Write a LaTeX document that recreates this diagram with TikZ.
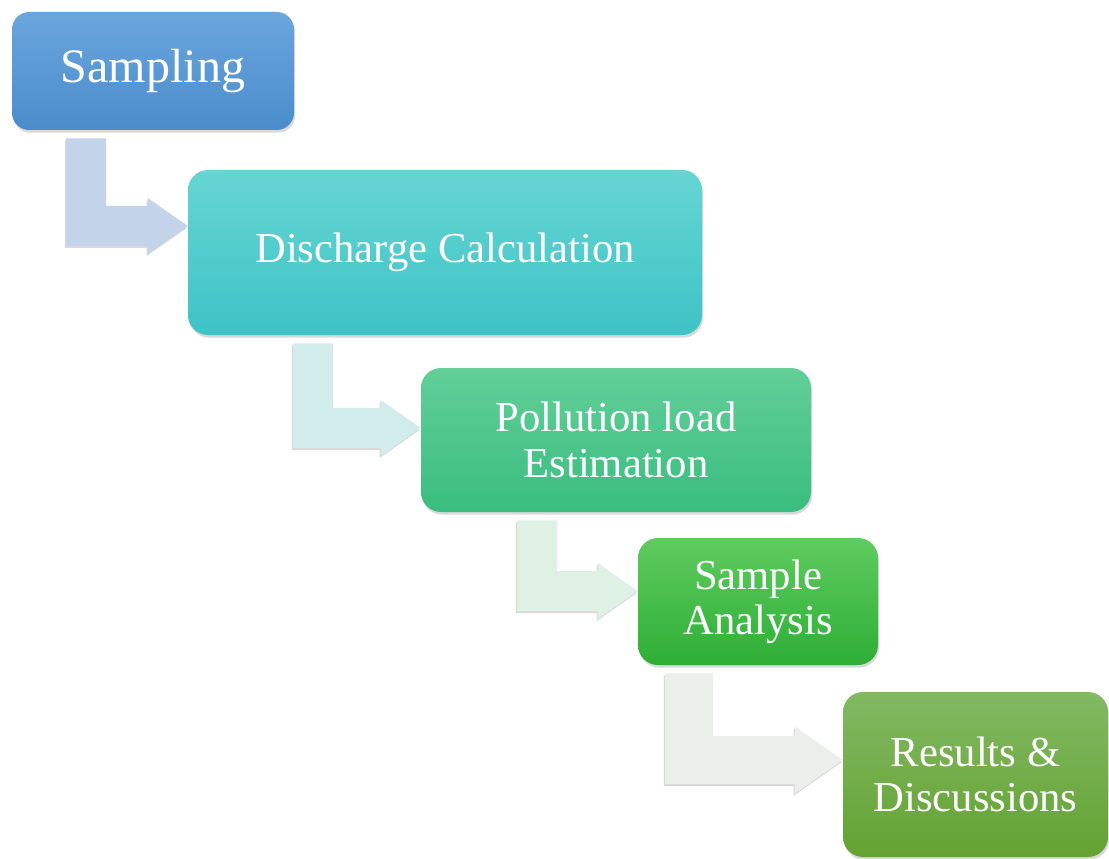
\documentclass[tikz,border=0pt]{standalone}
\usepackage{fontspec}
\setmainfont{Liberation Serif}
\usepackage{tikz}
\usetikzlibrary{calc,shadows,backgrounds}

\definecolor{samptop}{HTML}{6AA6DE}\definecolor{sampbot}{HTML}{4A8CCB}
\definecolor{disctop}{HTML}{66D5D3}\definecolor{discbot}{HTML}{3EC3C6}
\definecolor{polltop}{HTML}{62CF99}\definecolor{pollbot}{HTML}{3ABD7F}
\definecolor{anaytop}{HTML}{5FCB5F}\definecolor{anaybot}{HTML}{2EAE36}
\definecolor{restop}{HTML}{82B962}\definecolor{resbot}{HTML}{63A232}
\definecolor{arrowa}{HTML}{C3D3EA}\definecolor{arrowb}{HTML}{D2EBEB}
\definecolor{arrowc}{HTML}{DFF0E5}\definecolor{arrowd}{HTML}{EBEEEA}

\newdimen\px \px=0.75pt

\tikzset{
  stagebox/.style={rounded corners=15pt, text=white, align=center,
    font=\fontsize{32}{34}\selectfont, inner sep=0pt,
    drop shadow={opacity=0.3, shadow xshift=0.8pt, shadow yshift=-2pt}},
  arrowshadow/.style={drop shadow={opacity=0.3, shadow xshift=-0.8pt, shadow yshift=-1.5pt}}
}

% #1 size factor, #2 source, #3 elbow, #4 target, #5 colour
\newcommand{\bentarrow}[5][1]{%
  \fill[#5, arrowshadow] let \p1=($(#2.south)+(0,-6pt)$), \p2=(#3), \p3=(#4.west),
    \n1={15pt*#1}, \n2={21pt*#1}, \n3={30pt*#1} in
    (\x2-\n1,\y1) -- (\x2+\n1,\y1) -- (\x2+\n1,\y2+\n1) -- (\x3-\n3,\y2+\n1)
    -- (\x3-\n3,\y2+\n2) -- (\x3,\y2) -- (\x3-\n3,\y2-\n2) -- (\x3-\n3,\y2-\n1)
    -- (\x2-\n1,\y2-\n1) -- cycle;}

\begin{document}
\begin{tikzpicture}[x=0.75pt, y=-0.75pt]
  \useasboundingbox (0,0) rectangle (1109,859);

  % stages
  \node[stagebox, top color=samptop, bottom color=sampbot, rounded corners=13pt,
        minimum width=282\px, minimum height=118\px, font=\fontsize{36}{38}\selectfont]
        (samp) at (153,71) {Sampling};
  \node[stagebox, top color=disctop, bottom color=discbot,
        minimum width=514\px, minimum height=165\px] (disc) at (445,252.5) {Discharge Calculation};
  \node[stagebox, top color=polltop, bottom color=pollbot,
        minimum width=390\px, minimum height=144\px] (poll) at (616,440) {Pollution load\\Estimation};
  \node[stagebox, top color=anaytop, bottom color=anaybot,
        minimum width=240\px, minimum height=127\px] (anay) at (758,601.5) {Sample\\Analysis};
  \node[stagebox, top color=restop, bottom color=resbot,
        minimum width=265\px, minimum height=165\px] (res) at (975.5,774.5) {Results \&\\Discussions};

  % elbows of the bent arrows
  \coordinate (ea) at (86,226);
  \coordinate (eb) at (313,428);
  \coordinate (ec) at (537,591);
  \coordinate (ed) at (689,760);

  \begin{scope}[on background layer]
    \bentarrow{samp}{ea}{disc}{arrowa}
    \bentarrow{disc}{eb}{poll}{arrowb}
    \bentarrow{poll}{ec}{anay}{arrowc}
    \bentarrow[1.2]{anay}{ed}{res}{arrowd}
  \end{scope}
\end{tikzpicture}
\end{document}
